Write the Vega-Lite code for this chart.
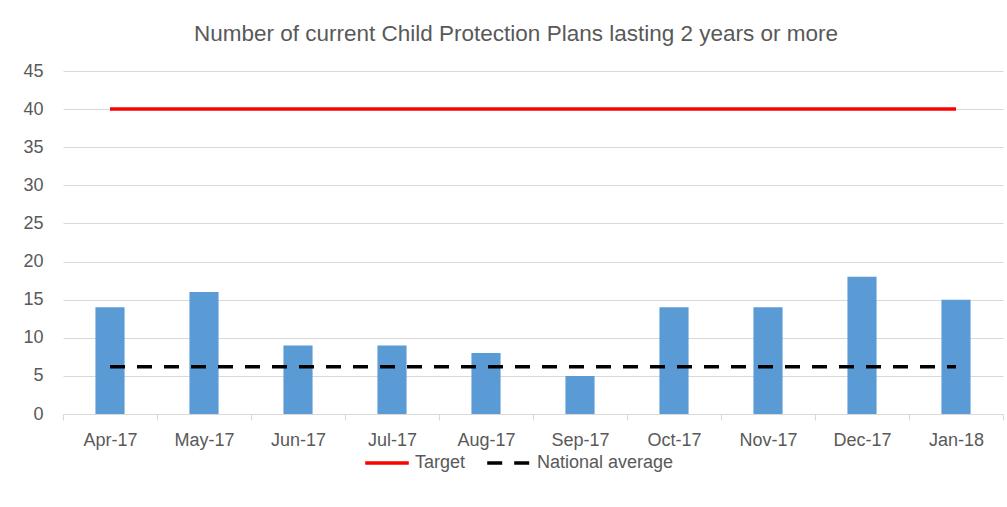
{
  "$schema": "https://vega.github.io/schema/vega-lite/v6.json",
  "width": 940,
  "height": 343,
  "autosize": {"type": "none"},
  "padding": {"left": 63, "top": 71, "right": 4, "bottom": 93},
  "background": "white",
  "title": {
    "text": "Number of current Child Protection Plans lasting 2 years or more",
    "font": "Liberation Sans",
    "fontSize": 22.5,
    "fontWeight": "normal",
    "color": "#595959",
    "anchor": "middle",
    "dx": -17,
    "offset": 17
  },
  "datasets": {
    "bars": [
      {"month": "Apr-17", "value": 14},
      {"month": "May-17", "value": 16},
      {"month": "Jun-17", "value": 9},
      {"month": "Jul-17", "value": 9},
      {"month": "Aug-17", "value": 8},
      {"month": "Sep-17", "value": 5},
      {"month": "Oct-17", "value": 14},
      {"month": "Nov-17", "value": 14},
      {"month": "Dec-17", "value": 18},
      {"month": "Jan-18", "value": 15}
    ],
    "lines": [
      {"month": "Apr-17", "series": "Target", "value": 40},
      {"month": "May-17", "series": "Target", "value": 40},
      {"month": "Jun-17", "series": "Target", "value": 40},
      {"month": "Jul-17", "series": "Target", "value": 40},
      {"month": "Aug-17", "series": "Target", "value": 40},
      {"month": "Sep-17", "series": "Target", "value": 40},
      {"month": "Oct-17", "series": "Target", "value": 40},
      {"month": "Nov-17", "series": "Target", "value": 40},
      {"month": "Dec-17", "series": "Target", "value": 40},
      {"month": "Jan-18", "series": "Target", "value": 40},
      {"month": "Apr-17", "series": "National average", "value": 6.2},
      {"month": "May-17", "series": "National average", "value": 6.2},
      {"month": "Jun-17", "series": "National average", "value": 6.2},
      {"month": "Jul-17", "series": "National average", "value": 6.2},
      {"month": "Aug-17", "series": "National average", "value": 6.2},
      {"month": "Sep-17", "series": "National average", "value": 6.2},
      {"month": "Oct-17", "series": "National average", "value": 6.2},
      {"month": "Nov-17", "series": "National average", "value": 6.2},
      {"month": "Dec-17", "series": "National average", "value": 6.2},
      {"month": "Jan-18", "series": "National average", "value": 6.2}
    ]
  },
  "encoding": {
    "x": {
      "field": "month",
      "type": "nominal",
      "title": null,
      "scale": {
        "domain": ["Apr-17", "May-17", "Jun-17", "Jul-17", "Aug-17", "Sep-17", "Oct-17", "Nov-17", "Dec-17", "Jan-18"],
        "paddingInner": 0,
        "paddingOuter": 0
      },
      "axis": {
        "labelAngle": 0,
        "tickBand": "extent",
        "domainColor": "#d9d9d9",
        "tickColor": "#d9d9d9",
        "tickSize": 6,
        "labelPadding": 11,
        "grid": false
      }
    },
    "y": {
      "field": "value",
      "type": "quantitative",
      "title": null,
      "scale": {"domain": [0, 45], "nice": false},
      "axis": {
        "values": [0, 5, 10, 15, 20, 25, 30, 35, 40, 45],
        "labelOverlap": false,
        "domain": false,
        "ticks": false,
        "tickSize": 0,
        "labelPadding": 20,
        "grid": true,
        "gridColor": "#d9d9d9",
        "gridWidth": 1
      }
    }
  },
  "layer": [
    {
      "data": {"name": "bars"},
      "mark": {"type": "bar", "color": "#5B9BD5", "width": {"band": 0.31}}
    },
    {
      "data": {"name": "lines"},
      "mark": {"type": "line", "strokeWidth": 3.5},
      "encoding": {
        "color": {
          "field": "series",
          "type": "nominal",
          "title": null,
          "scale": {"domain": ["Target", "National average"], "range": ["#FF0000", "#000000"]}
        },
        "strokeDash": {
          "field": "series",
          "type": "nominal",
          "title": null,
          "scale": {"domain": ["Target", "National average"], "range": [[1, 0], [15, 12]]}
        }
      }
    }
  ],
  "config": {
    "view": {"stroke": null},
    "axis": {
      "labelFont": "Liberation Sans",
      "labelFontSize": 18,
      "labelColor": "#595959"
    },
    "legend": {
      "orient": "none",
      "legendX": 300,
      "legendY": 368,
      "direction": "horizontal",
      "symbolType": "stroke",
      "symbolSize": 1900,
      "symbolStrokeWidth": 3.5,
      "labelFont": "Liberation Sans",
      "labelFontSize": 18,
      "labelColor": "#595959",
      "labelOffset": 4,
      "columnPadding": 14
    }
  }
}
